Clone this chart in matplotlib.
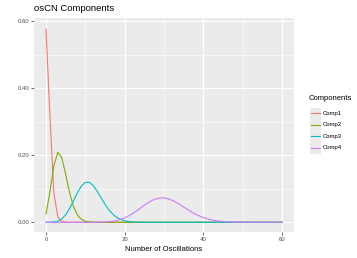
import matplotlib
matplotlib.use("Agg")
import matplotlib.pyplot as plt
from matplotlib.patches import Rectangle
from matplotlib.lines import Line2D

x_vals = list(range(0, 61))

comp1_head = [0.577, 0.317, 0.0873, 0.016, 0.0022, 0.0002]
comp2_head = [0.0247, 0.0915, 0.1692, 0.2087, 0.1931, 0.1429, 0.0881, 0.0466,
              0.0215, 0.0089, 0.0033, 0.0011, 0.0003, 0.0001]
comp3_head = [0.0, 0.0002, 0.0010, 0.0037, 0.0102, 0.0224, 0.0411, 0.0646,
              0.0888, 0.1085, 0.1194, 0.1194, 0.1094, 0.0926, 0.0728, 0.0534,
              0.0367, 0.0237, 0.0145, 0.0084, 0.0046, 0.0024, 0.0012, 0.0006,
              0.0003, 0.0001]
comp4_vals = [0.0] * 12 + [0.0001, 0.0002, 0.0005, 0.0010, 0.0019, 0.0034,
              0.0057, 0.0089, 0.0134, 0.0192, 0.0261, 0.0341, 0.0426, 0.0511,
              0.0590, 0.0655, 0.0702, 0.0726, 0.0726, 0.0703, 0.0659, 0.0599,
              0.0528, 0.0453, 0.0378, 0.0306, 0.0242, 0.0186, 0.0139, 0.0102,
              0.0073, 0.0051, 0.0035, 0.0023, 0.0015, 0.0010, 0.0006, 0.0004,
              0.0002, 0.0001] + [0.0] * 9

def pad(v):
    return v + [0.0] * (61 - len(v))

names = ["Comp1", "Comp2", "Comp3", "Comp4"]
series = {
    "Comp1": pad(comp1_head),
    "Comp2": pad(comp2_head),
    "Comp3": pad(comp3_head),
    "Comp4": comp4_vals,
}
colors = {"Comp1": "#F8766D", "Comp2": "#7CAE00", "Comp3": "#00BFC4", "Comp4": "#C77CFF"}

plt.rcParams['font.family'] = ['Liberation Sans', 'DejaVu Sans']

W, H = 357, 258
fig = plt.figure(figsize=(W / 100, H / 100), dpi=100)
l, r, t, b = 34.2, 294.0, 18.3, 232.0
ax = fig.add_axes([l / W, 1 - b / H, (r - l) / W, (b - t) / H])
ax.set_facecolor("#EBEBEB")

for name in names:
    ax.plot(x_vals, series[name], color=colors[name], lw=0.8, zorder=3)

ax.set_xlim(-3, 63)
ax.set_ylim(-0.029, 0.609)
ax.set_xticks([0, 20, 40, 60])
ax.set_xticks([10, 30, 50], minor=True)
ax.set_yticks([0.0, 0.2, 0.4, 0.6])
ax.set_yticks([0.1, 0.3, 0.5], minor=True)
ax.set_yticklabels(["0.00", "0.20", "0.40", "0.60"])
ax.grid(which="major", color="white", lw=0.8, zorder=0)
ax.grid(which="minor", color="white", lw=0.4, zorder=0)
ax.set_axisbelow(True)
for s in ax.spines.values():
    s.set_visible(False)
ax.tick_params(which="major", length=2.2, width=0.5, color="#333333",
               labelsize=4.3, labelcolor="#4D4D4D", pad=1.5)
ax.tick_params(which="minor", length=0)

ax.set_xlabel("Number of Oscillations", fontsize=5.5, labelpad=2.5)
fig.text(l / W, 1 - 4 / H, "osCN Components", fontsize=6.8, ha="left", va="top")

# legend drawn in figure pixel coordinates
lax = fig.add_axes([0, 0, 1, 1], facecolor="none")
lax.set_xlim(0, W)
lax.set_ylim(H, 0)
lax.axis("off")
lax.text(309, 99, "Components", fontsize=5.5, ha="left", va="center")
row_y = [113.3, 124.8, 136.3, 147.8]
lax.add_patch(Rectangle((309.5, 107.5), 11.5, 46, facecolor="#EBEBEB", edgecolor="none"))
for name, yy in zip(names, row_y):
    lax.add_line(Line2D([310.5, 320.0], [yy, yy], color=colors[name], lw=0.8))
    lax.text(323, yy, name, fontsize=4.3, ha="left", va="center")

fig.savefig("out.png", dpi=100)
